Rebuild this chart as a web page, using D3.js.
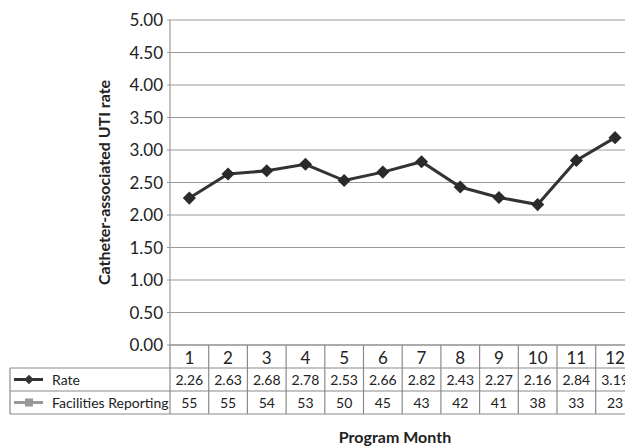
<!DOCTYPE html>
<html>
<head>
<meta charset="utf-8">
<script src="https://cdn.jsdelivr.net/npm/d3@7"></script>
<style>
body{margin:0;background:#fff;}
text{font-family:Lato,"Open Sans",sans-serif;fill:#222;}
</style>
</head>
<body>
<script>
var svg_width=625;
var svg_height=448;

var months=[1,2,3,4,5,6,7,8,9,10,11,12];
var rate=[2.26,2.63,2.68,2.78,2.53,2.66,2.82,2.43,2.27,2.16,2.84,3.19];
var facilities=[55,55,54,53,50,45,43,42,41,38,33,23];
var yTicks=[0,0.5,1,1.5,2,2.5,3,3.5,4,4.5,5];

var plotLeft=170, plotTop=20, plotBottom=345;
var colW=38.7;
var rowH=[23,23,23];
var tableLeft=10;

var svg=d3.select("body")
        .append("svg")
        .attr("width",svg_width)
        .attr("height",svg_height);

var x=d3.scaleBand()
    .domain(months)
    .range([plotLeft,plotLeft+colW*months.length]);

var y=d3.scaleLinear()
    .domain([0,5])
    .range([plotBottom,plotTop]);

// grid lines
svg.selectAll("line.grid")
    .data(yTicks)
    .enter()
    .append("line")
    .attr("class","grid")
    .attr("x1",plotLeft-3)
    .attr("x2",svg_width)
    .attr("y1",function(d){return y(d);})
    .attr("y2",function(d){return y(d);})
    .attr("stroke","#9a9a9a")
    .attr("stroke-width",1.2);

svg.selectAll("text.ytick")
    .data(yTicks)
    .enter()
    .append("text")
    .attr("class","ytick")
    .attr("x",plotLeft-7)
    .attr("y",function(d){return y(d)+6;})
    .attr("text-anchor","end")
    .style("font-size","17px")
    .text(function(d){return d3.format(".2f")(d);});

// y axis line
svg.append("line")
    .attr("x1",plotLeft).attr("x2",plotLeft)
    .attr("y1",y(5)).attr("y2",plotBottom)
    .attr("stroke","#9a9a9a")
    .attr("stroke-width",1.2);

svg.append("text")
    .attr("transform","translate(110,"+(plotTop+plotBottom)/2+") rotate(-90)")
    .attr("text-anchor","middle")
    .style("font-size","16px")
    .style("font-weight","bold")
    .text("Catheter-associated UTI rate");

// table
var r0=plotBottom, r1=r0+rowH[0], r2=r1+rowH[1], r3=r2+rowH[2];
var tableRight=x.range()[1];
var tg=svg.append("g").attr("stroke","#8a8a8a").attr("stroke-width",1.2);
tg.append("line").attr("x1",plotLeft).attr("x2",tableRight).attr("y1",r0).attr("y2",r0);
tg.append("line").attr("x1",tableLeft).attr("x2",tableRight).attr("y1",r1).attr("y2",r1);
tg.append("line").attr("x1",tableLeft).attr("x2",tableRight).attr("y1",r2).attr("y2",r2);
tg.append("line").attr("x1",tableLeft).attr("x2",tableRight).attr("y1",r3).attr("y2",r3);
tg.append("line").attr("x1",tableLeft).attr("x2",tableLeft).attr("y1",r1).attr("y2",r3);
tg.selectAll("line.col")
    .data(months)
    .enter()
    .append("line")
    .attr("class","col")
    .attr("x1",function(d){return x(d);})
    .attr("x2",function(d){return x(d);})
    .attr("y1",r0)
    .attr("y2",r3);

svg.selectAll("text.month")
    .data(months)
    .enter()
    .append("text")
    .attr("class","month")
    .attr("x",function(d){return x(d)+x.bandwidth()/2;})
    .attr("y",r0+19)
    .attr("text-anchor","middle")
    .style("font-size","17px")
    .text(function(d){return d;});

svg.selectAll("text.rate")
    .data(rate)
    .enter()
    .append("text")
    .attr("class","rate")
    .attr("x",function(d,i){return x(months[i])+x.bandwidth()/2;})
    .attr("y",r1+17)
    .attr("text-anchor","middle")
    .style("font-size","14px")
    .text(function(d){return d3.format(".2f")(d);});

svg.selectAll("text.fac")
    .data(facilities)
    .enter()
    .append("text")
    .attr("class","fac")
    .attr("x",function(d,i){return x(months[i])+x.bandwidth()/2;})
    .attr("y",r2+17)
    .attr("text-anchor","middle")
    .style("font-size","14px")
    .text(function(d){return d;});

// legend keys in table
var diamond=d3.symbol().type(d3.symbolDiamond2).size(60);
var ky1=(r1+r2)/2, ky2=(r2+r3)/2;
svg.append("line").attr("x1",14).attr("x2",43).attr("y1",ky1).attr("y2",ky1)
    .attr("stroke","#333").attr("stroke-width",3);
svg.append("path").attr("d",diamond).attr("transform","translate(29,"+ky1+")").attr("fill","#333");
svg.append("text").attr("x",52).attr("y",ky1+5).style("font-size","14px").text("Rate");
svg.append("line").attr("x1",14).attr("x2",43).attr("y1",ky2).attr("y2",ky2)
    .attr("stroke","#999").attr("stroke-width",3);
svg.append("rect").attr("x",25).attr("y",ky2-4).attr("width",8).attr("height",8).attr("fill","#999");
svg.append("text").attr("x",52).attr("y",ky2+5).style("font-size","14px").text("Facilities Reporting");

// rate line
var line=d3.line()
    .x(function(d,i){return x(months[i])+x.bandwidth()/2;})
    .y(function(d){return y(d);});

svg.append("path")
    .datum(rate)
    .attr("d",line)
    .attr("fill","none")
    .attr("stroke","#333")
    .attr("stroke-width",3);

svg.selectAll("path.pt")
    .data(rate)
    .enter()
    .append("path")
    .attr("class","pt")
    .attr("d",d3.symbol().type(d3.symbolDiamond2).size(110))
    .attr("transform",function(d,i){return "translate("+(x(months[i])+x.bandwidth()/2)+","+y(d)+")";})
    .attr("fill","#2a2a2a");

svg.append("text")
    .attr("x",395)
    .attr("y",443)
    .attr("text-anchor","middle")
    .style("font-size","16px")
    .style("font-weight","bold")
    .text("Program Month");
</script>
</body>
</html>
